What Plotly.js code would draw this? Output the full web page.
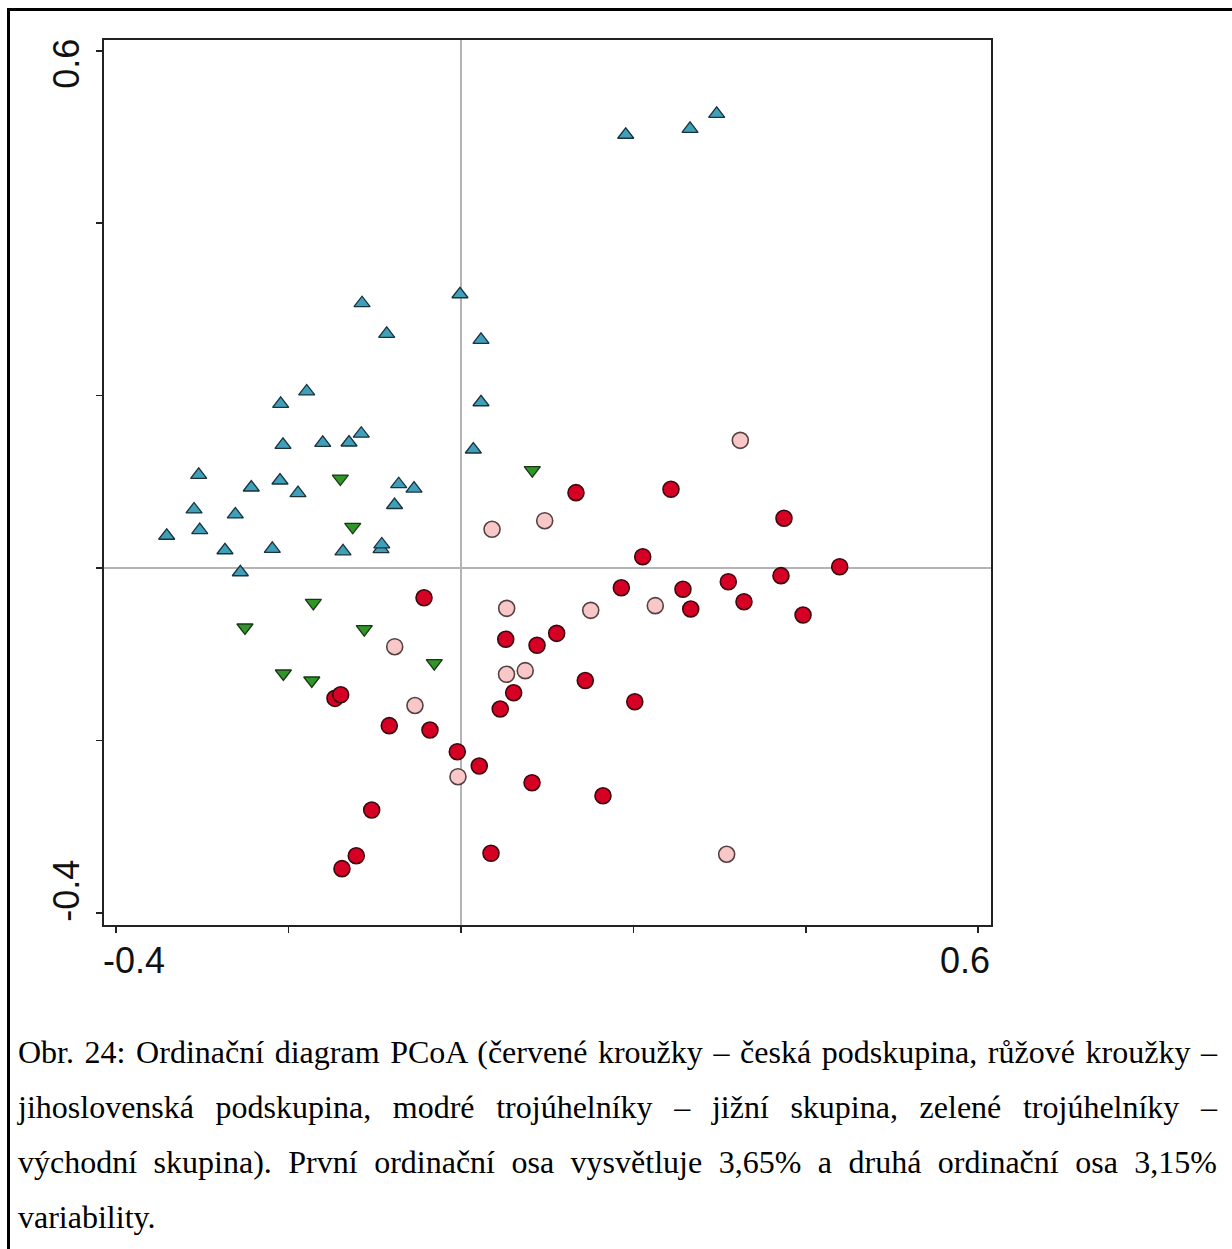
<!DOCTYPE html>
<html>
<head>
<meta charset="utf-8">
<script src="https://cdn.plot.ly/plotly-3.0.1.min.js"></script>
<style>
  html, body { margin: 0; padding: 0; background: #ffffff; }
  #wrap { position: relative; width: 1232px; height: 1249px; overflow: hidden; background: #fff; }
  #chart { position: absolute; left: 0; top: 0; width: 1232px; height: 1249px; }
  #frame { position: absolute; left: 7px; top: 8px; width: 1400px; height: 1400px;
           border-left: 3px solid #000; border-top: 3px solid #000; pointer-events: none; }
  #caption { position: absolute; left: 18px; top: 1025px; width: 1199px;
             font-family: "Liberation Serif", "Times New Roman", serif; font-size: 32px; color: #000; }
  #caption div { height: 55px; line-height: 55px; white-space: normal; }
  #caption div.j { text-align: justify; text-align-last: justify; }
</style>
</head>
<body>
<div id="wrap">
  <div id="chart"></div>
  <div id="frame"></div>
  <div id="caption"></div>
</div>
<script>
// ---- data (PCoA scores) ----
const blueX = [-0.3414,-0.3043,-0.3097,-0.3031,-0.2738,-0.2618,-0.2560,-0.2433,-0.2189,-0.2092,-0.2065,-0.2100,-0.1891,-0.1790,-0.1604,-0.1369,-0.1299,-0.1157,-0.1148,-0.0862,-0.0771,-0.0723,-0.0545,-0.0928,-0.0919,-0.0012,0.0232,0.0232,0.0143,0.1911,0.2657,0.2966];
const blueY = [0.0374,0.1081,0.0679,0.0439,0.0206,0.0621,-0.0049,0.0934,0.0223,0.1905,0.1429,0.1015,0.0868,0.2048,0.1452,0.0194,0.1456,0.1558,0.3072,0.2717,0.0731,0.0972,0.0922,0.0220,0.0273,0.3176,0.2647,0.1923,0.1375,0.5026,0.5095,0.5269];

const greenX = [-0.1400,-0.1256,0.0827,-0.1713,-0.2506,-0.1122,-0.0310,-0.2061,-0.1731];
const greenY = [0.1038,0.0478,0.1135,-0.0404,-0.0690,-0.0710,-0.1104,-0.1224,-0.1305];

const pinkX = [0.3240,0.0360,0.0971,0.0530,0.1505,0.2254,-0.0769,0.0528,0.0745,-0.0534,-0.0035,0.3082];
const pinkY = [0.1481,0.0449,0.0549,-0.0468,-0.0491,-0.0437,-0.0913,-0.1233,-0.1191,-0.1595,-0.2421,-0.3321];

const redX = [0.1334,0.2436,0.3747,0.2108,0.4393,0.3712,0.1860,0.2575,0.3101,0.3283,0.2665,0.3968,-0.0429,0.0519,0.0882,0.1110,0.1442,0.0611,0.0455,0.2016,-0.1462,-0.1396,-0.0832,-0.0360,-0.0043,0.0212,0.0824,0.1647,-0.1036,-0.1215,-0.1381,0.0348];
const redY = [0.0874,0.0913,0.0577,0.0131,0.0015,-0.0089,-0.0229,-0.0247,-0.0159,-0.0391,-0.0476,-0.0545,-0.0345,-0.0827,-0.0897,-0.0758,-0.1305,-0.1447,-0.1636,-0.1551,-0.1512,-0.1470,-0.1829,-0.1879,-0.2131,-0.2297,-0.2491,-0.2642,-0.2807,-0.3338,-0.3488,-0.3310];

const xTickVals = [-0.4,-0.2,0,0.2,0.4,0.6];
const yTickVals = [-0.4,-0.2,0,0.2,0.4,0.6];
const xLabelVals = [-0.4, 0.6];
const xTickLabels = ['-0.4', '0.6'];
const yLabelVals = [-0.4, 0.6];
const yTickLabels = ['-0.4', '0.6'];

const captionLines = [
  'Obr. 24: Ordinační diagram PCoA (červené kroužky – česká podskupina, růžové kroužky –',
  'jihoslovenská podskupina, modré trojúhelníky – jižní skupina, zelené trojúhelníky –',
  'východní skupina). První ordinační osa vysvětluje 3,65% a druhá ordinační osa 3,15%',
  'variability.'
];

// ---- chart ----
const traces = [
  { x: blueX, y: blueY, type: 'scatter', mode: 'markers', name: 'jižní skupina',
    marker: { symbol: 'triangle-up', size: 14, color: 'rgb(64,160,186)', line: { color: 'rgb(25,50,62)', width: 1.3 } } },
  { x: greenX, y: greenY, type: 'scatter', mode: 'markers', name: 'východní skupina',
    marker: { symbol: 'triangle-down', size: 14, color: 'rgb(48,150,40)', line: { color: 'rgb(25,55,20)', width: 1.3 } } },
  { x: pinkX, y: pinkY, type: 'scatter', mode: 'markers', name: 'jihoslovenská podskupina',
    marker: { symbol: 'circle', size: 16, color: 'rgb(248,200,200)', line: { color: 'rgb(85,65,65)', width: 1.6 } } },
  { x: redX, y: redY, type: 'scatter', mode: 'markers', name: 'česká podskupina',
    marker: { symbol: 'circle', size: 16, color: 'rgb(214,0,36)', line: { color: 'rgb(60,8,14)', width: 1.6 } } }
];

const axisCommon = {
  showline: true, linecolor: '#222', linewidth: 2, mirror: true,
  ticks: 'outside', ticklen: 6, tickwidth: 1.5, tickcolor: '#222',
  tickmode: 'array', showticklabels: false, showgrid: false,
  zeroline: true, zerolinecolor: '#b4b4b4', zerolinewidth: 1.5, fixedrange: true
};

const labelFont = { family: 'Liberation Sans, Arial, sans-serif', size: 36, color: '#111' };
const xShifts = [18, -13];
const yShifts = [22, -13];
const annotations = [];
xLabelVals.forEach((v, i) => annotations.push({
  x: v, y: 0, xref: 'x', yref: 'paper', text: xTickLabels[i], showarrow: false,
  xanchor: 'center', yanchor: 'middle', xshift: xShifts[i], yshift: -35, font: labelFont
}));
yLabelVals.forEach((v, i) => annotations.push({
  x: 0, y: v, xref: 'paper', yref: 'y', text: yTickLabels[i], showarrow: false, textangle: -90,
  xanchor: 'center', yanchor: 'middle', xshift: -37, yshift: yShifts[i], font: labelFont
}));

const layout = {
  width: 1232, height: 1249,
  margin: { l: 104, r: 241, t: 40, b: 324, pad: 0 },
  paper_bgcolor: 'rgba(0,0,0,0)', plot_bgcolor: '#ffffff',
  showlegend: false, hovermode: false,
  xaxis: Object.assign({}, axisCommon, { range: [-0.41415, 0.61485], tickvals: xTickVals }),
  yaxis: Object.assign({}, axisCommon, { range: [-0.41415, 0.61253], tickvals: yTickVals }),
  annotations: annotations
};

Plotly.newPlot('chart', traces, layout, { staticPlot: true, displayModeBar: false });

// ---- caption ----
const cap = document.getElementById('caption');
captionLines.forEach((t, i) => {
  const d = document.createElement('div');
  if (i < captionLines.length - 1) d.className = 'j';
  d.textContent = t;
  cap.appendChild(d);
});
</script>
</body>
</html>
